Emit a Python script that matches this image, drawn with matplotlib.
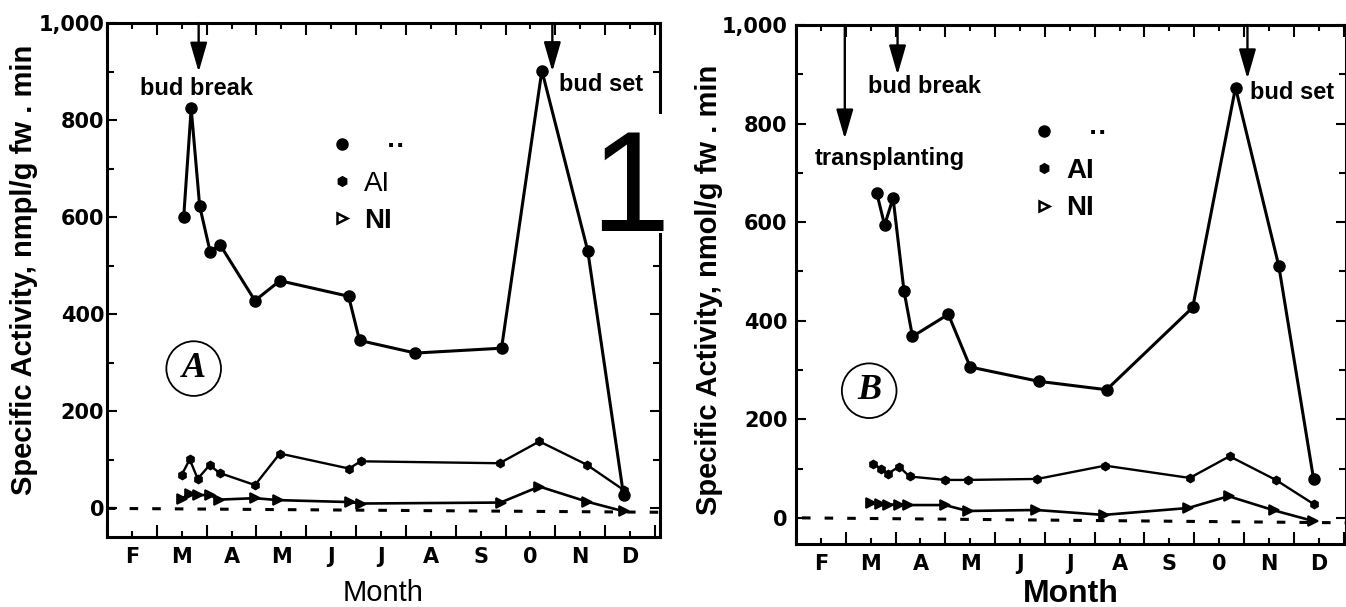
#!/usr/bin/env python
# -*- coding: utf-8 -*-

import matplotlib
matplotlib.use('Agg')

from matplotlib import pyplot as plt
from matplotlib.lines import Line2D
from matplotlib.patches import Rectangle, ArrowStyle

# month axis: labels sit at mid-month, long ticks at month starts
month_labels = ['F', 'M', 'A', 'M', 'J', 'J', 'A', 'S', '0', 'N', 'D']
month_mid = [1.5, 2.5, 3.5, 4.5, 5.5, 6.5, 7.5, 8.5, 9.5, 10.5, 11.5]
month_start = [1, 2, 3, 4, 5, 6, 7, 8, 9, 10, 11, 12]

# ---- panel A ----
a_tot_x = [2.54, 2.69, 2.86, 3.07, 3.27, 3.97, 4.47, 5.85, 6.07, 7.19, 8.92, 9.73, 10.65, 11.37]
a_tot_y = [601, 824, 623, 529, 543, 428, 469, 437, 346, 320, 330, 902, 531, 27]
a_ai_x = [2.50, 2.66, 2.82, 3.06, 3.26, 3.97, 4.47, 5.86, 6.09, 8.88, 9.68, 10.63, 11.37]
a_ai_y = [69, 101, 61, 89, 73, 48, 113, 82, 97, 93, 138, 90, 38]
a_ni_x = [2.50, 2.66, 2.82, 3.06, 3.24, 3.97, 4.44, 5.87, 6.09, 8.90, 9.68, 10.63, 11.37]
a_ni_y = [20, 30, 27, 28, 18, 21, 17, 13, 10, 12, 45, 14, -6]
a_base_x = [1.0, 12.1]
a_base_y = [0, -8]
a_arrow_x = [2.84, 9.94]
a_arrow_tip = [899, 900]
a_notes = ['bud break', 'bud set']
a_note_x = [2.80, 10.91]
a_note_y = [866, 874]

# ---- panel B ----
b_tot_x = [2.62, 2.78, 2.95, 3.17, 3.34, 4.06, 4.50, 5.88, 7.24, 8.97, 9.83, 10.70, 11.40]
b_tot_y = [660, 594, 649, 460, 368, 413, 306, 277, 260, 427, 873, 511, 78]
b_ai_x = [2.54, 2.71, 2.85, 3.07, 3.28, 3.99, 4.46, 5.85, 7.21, 8.91, 9.71, 10.64, 11.40]
b_ai_y = [110, 100, 90, 104, 84, 77, 77, 79, 106, 81, 125, 77, 28]
b_ni_x = [2.50, 2.68, 2.85, 3.07, 3.25, 3.99, 4.45, 5.83, 7.18, 8.88, 9.69, 10.61, 11.38]
b_ni_y = [30, 28, 27, 27, 26, 26, 14, 16, 6, 20, 44, 15, -6]
b_base_x = [1.12, 12.05]
b_base_y = [0, -10]
b_arrow_x = [1.98, 3.04, 10.07]
b_arrow_tip = [769, 899, 891]
b_notes = ['transplanting', 'bud break', 'bud set']
b_note_x = [2.89, 3.58, 10.97]
b_note_y = [730, 875, 863]

TICKFONT = {'family': 'DejaVu Sans', 'weight': 'bold', 'size': 15}
NOTEFONT = {'family': 'Liberation Sans', 'weight': 'bold', 'size': 17}
PANELFONT = {'family': 'Liberation Serif', 'weight': 'bold', 'style': 'italic', 'size': 26}


def style_axes(ax, xlim, ylim, ypad):
    ax.set_xlim(*xlim)
    ax.set_ylim(*ylim)
    for sp in ax.spines.values():
        sp.set_linewidth(2.2)

    ax.set_xticks(month_start)
    ax.set_xticklabels([])
    ax.set_xticks(month_mid, minor=True)
    ax.set_xticklabels(month_labels, minor=True, fontdict=TICKFONT)
    ax.set_yticks([0, 200, 400, 600, 800, 1000])
    ax.set_yticklabels(['0', '200', '400', '600', '800', '1,000'], fontdict=TICKFONT)
    ax.set_yticks(range(100, 1000, 200), minor=True)

    ax.tick_params(axis='x', which='both', direction='in', top=True, bottom=True, width=1.5)
    ax.tick_params(axis='x', which='major', length=8.5)
    ax.tick_params(axis='x', which='minor', length=4, pad=7)
    ax.tick_params(axis='y', which='both', direction='in', left=True, right=True, width=1.5)
    ax.tick_params(axis='y', which='major', length=7, pad=ypad)
    ax.tick_params(axis='y', which='minor', length=5)


def plot_series(ax, tx, ty, ax_x, ax_y, nx, ny, bx, by):
    ax.plot(bx, by, color='k', lw=2.2, linestyle=(0, (2.8, 4.6)), zorder=2)
    ax.plot(tx, ty, '-o', color='k', lw=2.2, ms=8, zorder=3)
    ax.plot(ax_x, ax_y, '-h', color='k', lw=1.7, ms=6, zorder=3)
    ax.plot(nx, ny, '->', color='k', lw=1.9, ms=7, mfc='k', mew=1.2, zorder=3)


def add_arrows(ax, xs, tips, notes, nx, ny):
    head = ArrowStyle('-|>', head_length=0.9, head_width=0.26)
    for x, tip in zip(xs, tips):
        ax.annotate('', xy=(x, tip), xytext=(x, 1000),
                    arrowprops=dict(arrowstyle=head, lw=1.7, color='k',
                                    mutation_scale=20, shrinkA=0, shrinkB=0))
    for t, x, y in zip(notes, nx, ny):
        ax.text(x, y, t, ha='center', va='center', fontdict=NOTEFONT)


def add_legend(ax, anchor, ai_weight):
    handles = [
        Line2D([], [], marker='o', ls='none', color='k', ms=8),
        Line2D([], [], marker='h', ls='none', color='k', ms=7),
        Line2D([], [], marker='>', ls='none', color='k', ms=7, mfc='white', mew=1.8),
    ]
    labels = ['   \u00b7\u00b7', 'AI', 'NI']
    leg = ax.legend(handles, labels, loc='upper left', bbox_to_anchor=anchor,
                    frameon=False, borderpad=0, borderaxespad=0,
                    handlelength=0.8, handletextpad=0.4, labelspacing=0.4,
                    prop={'family': 'Liberation Sans', 'size': 20, 'weight': 'bold'})
    leg.get_texts()[1].set_fontweight(ai_weight)
    return leg


def main():
    fig = plt.figure(figsize=(13.46, 6.07), dpi=100)

    # panel A
    ax1 = fig.add_axes([0.0795, 0.1153, 0.4108, 0.8468])
    style_axes(ax1, (1.0, 12.1), (-59, 1000), 2)
    plot_series(ax1, a_tot_x, a_tot_y, a_ai_x, a_ai_y, a_ni_x, a_ni_y, a_base_x, a_base_y)
    add_arrows(ax1, a_arrow_x, a_arrow_tip, a_notes, a_note_x, a_note_y)
    add_legend(ax1, (0.405, 0.785), 'normal')
    ax1.set_ylabel('Specific Activity, nmpl/g fw . min',
                   fontdict={'family': 'Liberation Sans', 'weight': 'bold', 'size': 21})
    ax1.yaxis.set_label_coords(-0.125, 0.52)
    ax1.set_xlabel('Month', fontdict={'family': 'Liberation Sans', 'size': 21}, labelpad=9)
    ax1.text(2.74, 288, 'A', ha='center', va='center', fontdict=PANELFONT,
             bbox=dict(boxstyle='circle,pad=0.3', fc='white', ec='k', lw=1.3))
    # large figure number, sits over a break in the right frame
    ax1.add_patch(Rectangle((0.978, 0.591), 0.05, 0.232, transform=ax1.transAxes,
                            fc='white', ec='none', clip_on=False, zorder=5))
    ax1.text(0.945, 0.668, '1', transform=ax1.transAxes, ha='center', va='center',
             fontdict={'family': 'Liberation Sans', 'size': 103}, zorder=6)

    # panel B
    ax2 = fig.add_axes([0.5914, 0.1038, 0.4086, 0.855])
    style_axes(ax2, (1.12, 12.05), (-53, 1000), 6)
    plot_series(ax2, b_tot_x, b_tot_y, b_ai_x, b_ai_y, b_ni_x, b_ni_y, b_base_x, b_base_y)
    add_arrows(ax2, b_arrow_x, b_arrow_tip, b_notes, b_note_x, b_note_y)
    add_legend(ax2, (0.43, 0.815), 'bold')
    ax2.set_ylabel('Specific Activity, nmol/g fw . min',
                   fontdict={'family': 'Liberation Sans', 'weight': 'bold', 'size': 21})
    ax2.yaxis.set_label_coords(-0.133, 0.49)
    ax2.set_xlabel('Month', fontdict={'family': 'Liberation Sans', 'weight': 'bold', 'size': 23},
                   labelpad=4)
    ax2.text(2.47, 258, 'B', ha='center', va='center', fontdict=PANELFONT,
             bbox=dict(boxstyle='circle,pad=0.3', fc='white', ec='k', lw=1.3))

    fig.savefig('out.png', dpi=100)


if __name__ == "__main__":
    main()
